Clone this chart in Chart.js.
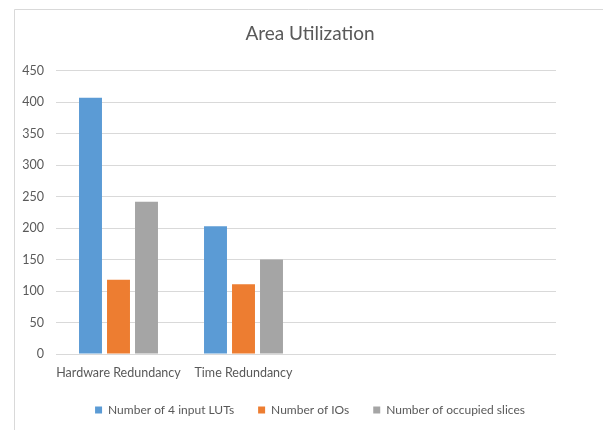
<!DOCTYPE html>
<html>
<head>
<meta charset="utf-8">
<script src="https://cdn.jsdelivr.net/npm/chart.js@4/dist/chart.umd.min.js"></script>
<style>
  html, body { margin: 0; padding: 0; background: #ffffff; }
  #wrap { width: 603px; height: 430px; position: relative; }
</style>
</head>
<body>
<div id="wrap"><canvas id="chart" width="603" height="430"></canvas></div>
<script>
// Design variants compared in the study (two empty slots keep Excel-style spacing)
const categories = ["Hardware Redundancy", "Time Redundancy", "", ""];
const seriesNames = ["Number of 4 input LUTs", "Number of IOs", "Number of occupied slices"];
const lutCounts = [407, 203, null, null];
const ioCounts = [118, 111, null, null];
const sliceCounts = [242, 150, null, null];
const seriesColors = ["#5B9BD5", "#ED7D31", "#A5A5A5"];
const yTicks = { min: 0, max: 450, step: 50 };

const textColor = "#595959";
const fontFamily = "Lato, 'Open Sans', sans-serif";

// Thin frame along the top and left of the chart object
const framePlugin = {
  id: "frame",
  beforeDraw(chart) {
    const ctx = chart.ctx;
    ctx.save();
    ctx.fillStyle = "#ffffff";
    ctx.fillRect(0, 0, chart.width, chart.height);
    ctx.strokeStyle = "#D9D9D9";
    ctx.lineWidth = 1;
    ctx.beginPath();
    ctx.moveTo(14.5, chart.height);
    ctx.lineTo(14.5, 9.5);
    ctx.lineTo(chart.width, 9.5);
    ctx.stroke();
    ctx.restore();
  }
};

const values = [lutCounts, ioCounts, sliceCounts];

new Chart(document.getElementById("chart"), {
  type: "bar",
  data: {
    labels: categories,
    datasets: seriesNames.map((name, i) => ({
      label: name,
      data: values[i],
      backgroundColor: seriesColors[i],
      borderWidth: 0,
      categoryPercentage: 0.672,
      barPercentage: 0.82
    }))
  },
  options: {
    responsive: false,
    animation: false,
    devicePixelRatio: 1,
    layout: { padding: { left: 17, right: 0, top: 0, bottom: 4 } },
    plugins: {
      title: {
        display: true,
        text: "Area Utilization",
        color: textColor,
        font: { family: fontFamily, size: 19, weight: "normal" },
        padding: { top: 22, bottom: 26 }
      },
      legend: {
        display: true,
        position: "bottom",
        labels: {
          color: textColor,
          font: { family: fontFamily, size: 12 },
          boxWidth: 7,
          boxHeight: 7,
          padding: 24
        }
      },
      tooltip: { enabled: false }
    },
    scales: {
      x: {
        afterFit(scale) { scale.height = scale.height - 11; },
        grid: { display: false, drawTicks: false },
        border: { display: false },
        ticks: {
          color: textColor,
          font: { family: fontFamily, size: 12.5 },
          padding: 11,
          maxRotation: 0,
          autoSkip: false
        }
      },
      y: {
        min: yTicks.min,
        max: yTicks.max,
        afterFit(scale) { scale.width = 39; },
        grid: { color: "#D9D9D9", drawTicks: false, lineWidth: 1 },
        border: { display: false },
        ticks: {
          stepSize: yTicks.step,
          color: textColor,
          font: { family: fontFamily, size: 12.5 },
          padding: 12
        }
      },
      // empty right-hand margin of the plot
      yRight: {
        position: "right",
        display: true,
        afterFit(scale) { scale.width = 47; },
        grid: { display: false, drawTicks: false },
        border: { display: false },
        ticks: { display: false }
      }
    }
  },
  plugins: [framePlugin]
});
</script>
</body>
</html>
